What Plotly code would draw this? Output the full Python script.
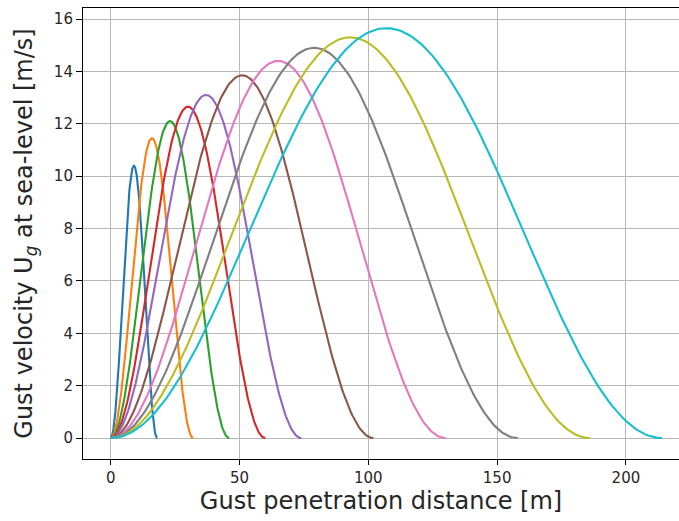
import numpy as np
import plotly.graph_objects as go

# Gust gradient distances H [m] (each profile spans 0..2H)
gust_gradient = [9, 16, 23, 30, 37, 51, 65, 79, 93, 107]
# Peak gust velocity [m/s] of each profile
peak_velocity = [10.4, 11.45, 12.1, 12.65, 13.1, 13.85, 14.4, 14.9, 15.3, 15.65]
colors = ["#1f77b4", "#ff7f0e", "#2ca02c", "#d62728", "#9467bd",
          "#8c564b", "#e377c2", "#7f7f7f", "#bcbd22", "#17becf"]
x_ticks = [0, 50, 100, 150, 200]
y_ticks = [0, 2, 4, 6, 8, 10, 12, 14, 16]

fig = go.Figure()
for H, U, c in zip(gust_gradient, peak_velocity, colors):
    s = np.linspace(0, 2 * H, 200)
    ug = U / 2 * (1 - np.cos(np.pi * s / H))  # 1-cosine gust profile
    fig.add_trace(go.Scatter(x=s, y=ug, mode="lines",
                             line=dict(color=c, width=2.1), showlegend=False,
                             name=f"H = {H} m"))

font = "DejaVu Sans, Verdana, sans-serif"
fig.update_layout(
    width=679, height=521,
    margin=dict(l=83, r=0, t=8, b=62),
    paper_bgcolor="white", plot_bgcolor="white",
    font=dict(family=font, size=15, color="#262626"),
    xaxis=dict(range=[-10.76, 220.6], tickvals=x_ticks,
               showgrid=True, gridcolor="#b8b8b8", gridwidth=1.1,
               zeroline=False, showline=True, linecolor="black", linewidth=1.1,
               mirror=True, ticks="outside", ticklen=5, tickcolor="black",
               tickfont=dict(size=15),
               title=dict(text="Gust penetration distance [m]",
                          font=dict(size=24), standoff=4)),
    yaxis=dict(range=[-0.80, 16.42], tickvals=y_ticks,
               showgrid=True, gridcolor="#b8b8b8", gridwidth=1.1,
               zeroline=False, showline=True, linecolor="black", linewidth=1.1,
               ticks="outside", ticklen=6, tickcolor="black",
               tickfont=dict(size=15),
               title=dict(text="Gust velocity U<sub><i>g</i></sub> at sea-level [m/s]",
                          font=dict(size=24), standoff=14)),
)
fig.write_html("out.html")
